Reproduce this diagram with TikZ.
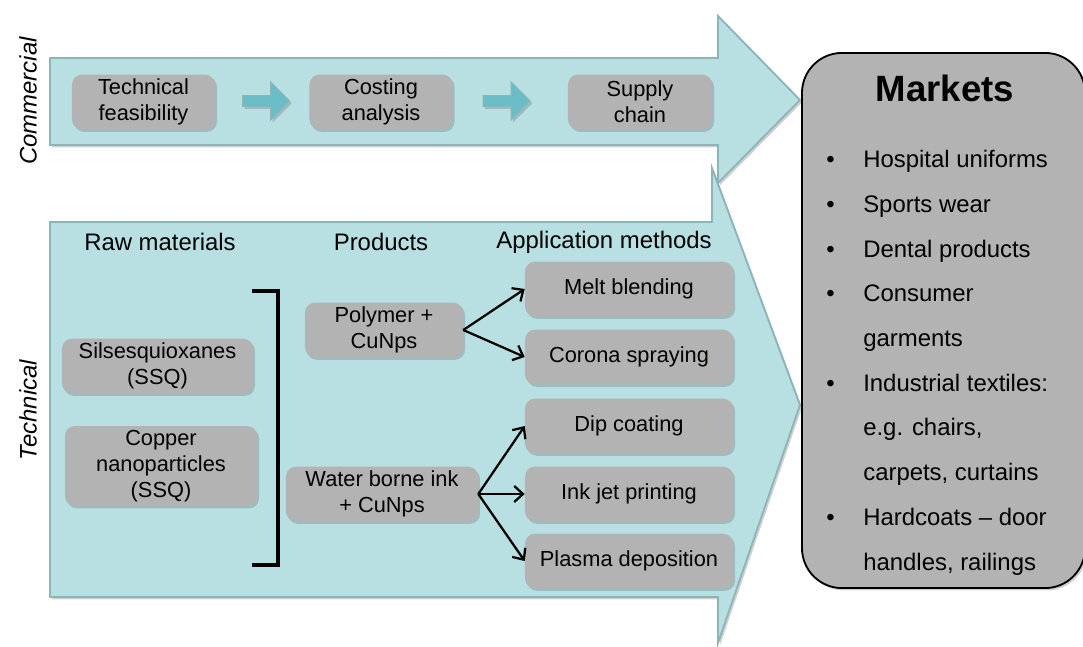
\documentclass[tikz,border=0pt]{standalone}
\usepackage{fontspec}
\setmainfont{Liberation Sans}
\usepackage{tikz}
\usetikzlibrary{shapes.arrows,shadows,arrows.meta}

\definecolor{flowfill}{HTML}{B8E0E3}
\definecolor{flowline}{HTML}{8DB5B8}
\definecolor{boxgray}{HTML}{B3B3B3}
\definecolor{stepteal}{HTML}{6BBDC5}

\begin{document}
\begin{tikzpicture}[x=0.025cm,y=-0.025cm,
	softshadow/.style={drop shadow={shadow xshift=0.05cm,shadow yshift=-0.06cm,opacity=0.3,fill=black!60}},
	flow/.style={fill=flowfill,draw=flowline,line width=1.3pt,softshadow},
	item/.style={rectangle,rounded corners=0.25cm,fill=boxgray,align=center,inner sep=0pt,
		minimum height=1.37cm,font=\fontsize{15.5}{18.5}\selectfont,softshadow},
	stepper/.style={single arrow,fill=stepteal,draw=flowline,line width=0.8pt,inner sep=0.12cm,
		minimum height=1.175cm,single arrow head extend=0.34cm,softshadow},
	head/.style={font=\fontsize{17}{20}\selectfont},
	side/.style={rotate=90,font=\itshape\fontsize{17}{20}\selectfont},
	link/.style={line width=1.6pt,-{Straight Barb[length=0.22cm,width=0.4cm]}}]
	\useasboundingbox (0,0) rectangle (1083,646);

	% the two big arrows
	\draw[flow] (50,58) -- (718,58) -- (718,16) -- (800,100) -- (718,183) -- (718,145) -- (50,145) -- cycle;
	\draw[flow] (50,222) -- (712,222) -- (712,168) -- (800,405) -- (718,643) -- (718,597) -- (50,597) -- cycle;

	\node[side] (commercial) at (28,101) {Commercial};
	\node[side] (technical)  at (28,410) {Technical};

	% commercial row
	\node[item,minimum width=3.575cm] (feas)   at (143.5,102) {Technical\\feasibility};
	\node[item,minimum width=3.575cm] (cost)   at (381,102)   {Costing\\analysis};
	\node[item,minimum width=3.6cm]   (supply) at (640,102)   {Supply\\chain};
	\node[stepper] (step1) at (263.5,101) {};
	\node[stepper] (step2) at (504,101)   {};

	% technical part
	\node[head] (raw)   at (160,242) {Raw materials};
	\node[head] (prod)  at (381,242) {Products};
	\node[head] (meth)  at (604,242) {Application methods};

	\node[item,minimum width=4.775cm] (ssq)  at (157.5,366) {Silsesquioxanes\\(SSQ)};
	\node[item,minimum width=4.8cm,minimum height=2cm] (cunp) at (161,466) {Copper\\nanoparticles\\(SSQ)};
	\draw[line width=2.8pt] (252,291) -- (278,291) -- (278,565) -- (252,565);

	\node[item,minimum width=3.95cm] (poly) at (384,330) {Polymer +\\CuNps};
	\node[item,minimum width=4.8cm]  (ink)  at (382,494) {Water borne ink\\+ CuNps};

	\node[item,minimum width=5.2cm] (melt)   at (629,289) {Melt blending};
	\node[item,minimum width=5.2cm] (corona) at (629,357) {Corona spraying};
	\node[item,minimum width=5.2cm] (dip)    at (629,426) {Dip coating};
	\node[item,minimum width=5.2cm] (jet)    at (629,494) {Ink jet printing};
	\node[item,minimum width=5.2cm] (plasma) at (629,561) {Plasma deposition};

	\path[link] (poly.east) edge (melt.west);
	\path[link] (poly.east) edge (corona.west);
	\path[link] (ink.east) edge (dip.west);
	\path[link] (ink.east) edge (jet.west);
	\path[link] (ink.east) edge (plasma.west);

	% markets
	\node[rectangle,rounded corners=1cm,draw=black,line width=1.3pt,fill=boxgray,softshadow,
		minimum width=7.075cm,minimum height=13.375cm] (markets) at (943.5,320.5) {};
	\node[font=\bfseries\fontsize{26}{30}\selectfont] (mkttitle) at (945,88) {Markets};
	\node[anchor=north west,inner sep=0pt,font=\fontsize{17}{31.8}\selectfont] (mktlist) at (826,136) {%
		\begin{tabular}{@{}p{0.925cm}@{}l@{}}
		• & Hospital uniforms\\
		• & Sports wear\\
		• & Dental products\\
		• & Consumer\\
		  & garments\\
		• & Industrial textiles:\\
		  & e.g. chairs,\\
		  & carpets, curtains\\
		• & Hardcoats – door\\
		  & handles, railings
		\end{tabular}};
\end{tikzpicture}
\end{document}
